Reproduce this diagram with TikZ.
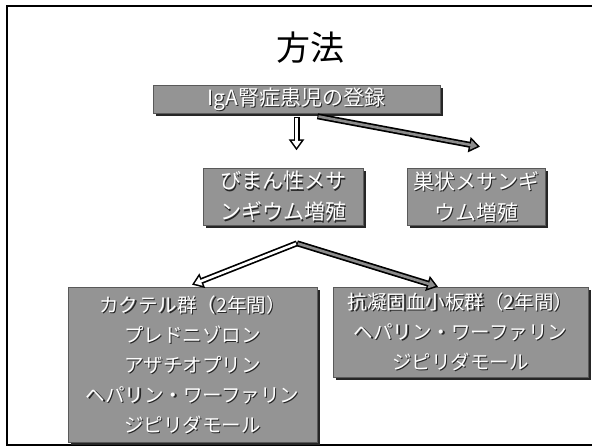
\documentclass[tikz,border=0pt]{standalone}
\usepackage{fontspec}
\setmainfont{Noto Sans CJK JP}
\usetikzlibrary{arrows.meta,calc,shadows}
\tikzset{
  box/.style={draw=black!65, line width=0.6pt, fill=black!42, inner sep=0pt,
    drop shadow={shadow xshift=2.5pt, shadow yshift=-2.5pt, fill=black!85, opacity=1}},
  shtxt/.style={align=center, text=black!85, inner sep=0pt},
  wtxt/.style={align=center, text=white, inner sep=0pt},
  fA/.style={font=\fontsize{21}{26}\selectfont},
  fB/.style={font=\fontsize{21}{31}\selectfont},
  fC/.style={font=\fontsize{19.5}{30}\selectfont},
}
\newcommand\fatarr[3]{%
  \draw[line width=6pt, black, -{Triangle[length=11pt,width=15pt]}] (#2) -- (#3);
  \draw[line width=2.6pt, #1, shorten <=1pt, shorten >=2.7pt,
        -{Triangle[length=6.8pt,width=9.2pt]}] (#2) -- (#3);}
\begin{document}
\begin{tikzpicture}[x=1pt,y=-1pt]
\useasboundingbox (0,0) rectangle (592,447);
\fill[white] (0,0) rectangle (592,447);
\draw[line width=1.3pt] (592,6) -- (7,6) -- (7,445) -- (592,445);

\node[font=\fontsize{34}{40}\selectfont] (title) at (310,48) {方法};

% boxes
\node[box, minimum width=287pt, minimum height=28pt] (reg) at (296.5,99) {};
\node[box, minimum width=160pt, minimum height=57pt] (ml) at (283,196.5) {};
\node[box, minimum width=138pt, minimum height=57pt] (mr) at (476,196.5) {};
\node[box, minimum width=249pt, minimum height=155pt] (bl) at (192.5,364.5) {};
\node[box, minimum width=255pt, minimum height=90pt] (br) at (460.5,332) {};

% texts
\node[shtxt, fA] (reg-s) at ($(reg)+(1.2,1.2)$) {IgA腎症患児の登録};
\node[wtxt, fA] (reg-t) at (reg) {IgA腎症患児の登録};
\node[shtxt, fB] (ml-s) at ($(ml)+(1.2,1.2)$) {びまん性メサ\\ンギウム増殖};
\node[wtxt, fB] (ml-t) at (ml) {びまん性メサ\\ンギウム増殖};
\node[shtxt, fB] (mr-s) at ($(mr)+(1.2,1.2)$) {巣状メサンギ\\ウム増殖};
\node[wtxt, fB] (mr-t) at (mr) {巣状メサンギ\\ウム増殖};
\node[shtxt, fC] (bl-s) at ($(bl)+(1.2,1.2)$) {カクテル群（2年間）\\プレドニゾロン\\アザチオプリン\\ヘパリン・ワーファリン\\ジピリダモール};
\node[wtxt, fC] (bl-t) at (bl) {カクテル群（2年間）\\プレドニゾロン\\アザチオプリン\\ヘパリン・ワーファリン\\ジピリダモール};
\node[shtxt, fC] (br-s) at ($(br)+(1.2,1.2)$) {抗凝固血小板群（2年間）\\ヘパリン・ワーファリン\\ジピリダモール};
\node[wtxt, fC] (br-t) at (br) {抗凝固血小板群（2年間）\\ヘパリン・ワーファリン\\ジピリダモール};

% arrows
\coordinate (d0) at ($(reg.south)+(0,4)$);
\coordinate (d1) at ($(reg.south)+(0,37)$);
\coordinate (r0) at ($(reg.south)+(21,3)$);
\coordinate (r1) at ($(mr.north)+(4,-21)$);
\coordinate (v0) at ($(ml.south)+(14,18)$);
\coordinate (v1) at ($(bl.north)+(-0.5,-2)$);
\coordinate (v2) at ($(br.north)+(-22.5,0)$);
\fatarr{white}{d0}{d1}
\fatarr{black!45}{r0}{r1}
\fatarr{white}{v0}{v1}
\fatarr{black!45}{v0}{v2}
\end{tikzpicture}
\end{document}
